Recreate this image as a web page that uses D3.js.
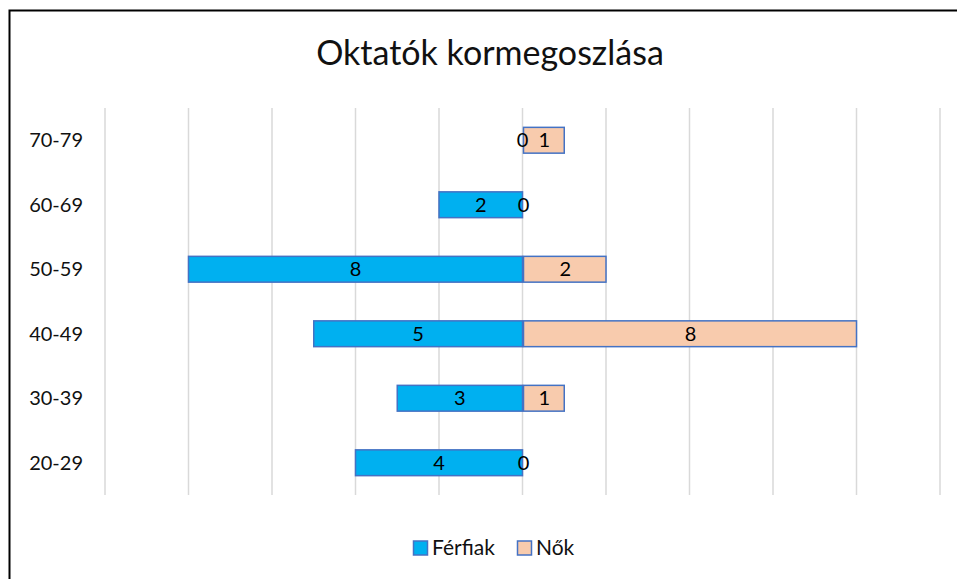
<!DOCTYPE html>
<html>
<head>
<meta charset="utf-8">
<script src="https://cdn.jsdelivr.net/npm/d3@7"></script>
<style>
  body { margin: 0; background: #fff; }
  svg { font-family: Lato, "Open Sans", sans-serif; }
</style>
</head>
<body>
<div id="chart"></div>
<script>
var ageGroups = ["70-79", "60-69", "50-59", "40-49", "30-39", "20-29"];
var men = [0, 2, 8, 5, 3, 4];
var women = [1, 0, 2, 8, 1, 0];
var seriesNames = ["Férfiak", "Nők"];
var gridTicks = [-10, -8, -6, -4, -2, 0, 2, 4, 6, 8, 10];

var w = 957,
  h = 579;

var svg = d3
  .select("#chart")
  .append("svg")
  .attr("width", w)
  .attr("height", h);

// chart frame (right and bottom edges fall outside the picture)
svg
  .append("rect")
  .attr("x", 9.5)
  .attr("y", 10.5)
  .attr("width", 1000)
  .attr("height", 1000)
  .attr("fill", "white")
  .attr("stroke", "black")
  .attr("stroke-width", 2);

svg
  .append("text")
  .attr("x", 490)
  .attr("y", 65)
  .attr("text-anchor", "middle")
  .attr("font-size", 34)
  .attr("fill", "#111")
  .text("Oktatók kormegoszlása");

var x = d3.scaleLinear().domain([-10, 10]).range([105, 940]);
var y = d3
  .scaleBand()
  .domain(ageGroups)
  .range([108, 495])
  .paddingInner(0.6)
  .paddingOuter(0.3);

svg
  .append("g")
  .selectAll("line")
  .data(gridTicks)
  .enter()
  .append("line")
  .attr("x1", (d) => x(d))
  .attr("x2", (d) => x(d))
  .attr("y1", 108)
  .attr("y2", 495)
  .attr("stroke", "#d9d9d9")
  .attr("stroke-width", 1.5);

var rows = ageGroups.map((g, i) => ({ group: g, men: men[i], women: women[i] }));

// men bars (left)
svg
  .append("g")
  .selectAll("rect")
  .data(rows)
  .enter()
  .append("rect")
  .attr("x", (d) => x(-d.men))
  .attr("y", (d) => y(d.group))
  .attr("width", (d) => x(0) - x(-d.men))
  .attr("height", y.bandwidth())
  .attr("fill", "#00b0f0")
  .attr("stroke", (d) => (d.men ? "#4472c4" : "none"))
  .attr("stroke-width", 1.5);

// women bars (right)
svg
  .append("g")
  .selectAll("rect")
  .data(rows)
  .enter()
  .append("rect")
  .attr("x", x(0) + 1)
  .attr("y", (d) => y(d.group))
  .attr("width", (d) => Math.max(0, x(d.women) - x(0) - 1))
  .attr("height", y.bandwidth())
  .attr("fill", "#f8cbad")
  .attr("stroke", (d) => (d.women ? "#4472c4" : "none"))
  .attr("stroke-width", 1.5);

// value labels, centred in each bar
var labels = svg.append("g").attr("font-size", 20).attr("fill", "#000").attr("text-anchor", "middle");

labels
  .selectAll(".lm")
  .data(rows)
  .enter()
  .append("text")
  .attr("class", "lm")
  .attr("x", (d) => (x(-d.men) + x(0)) / 2)
  .attr("y", (d) => y(d.group) + y.bandwidth() / 2)
  .attr("dy", "0.35em")
  .text((d) => d.men);

labels
  .selectAll(".lw")
  .data(rows)
  .enter()
  .append("text")
  .attr("class", "lw")
  .attr("x", (d) => (x(d.women) + x(0)) / 2 + 1)
  .attr("y", (d) => y(d.group) + y.bandwidth() / 2)
  .attr("dy", "0.35em")
  .text((d) => d.women);

// category labels
svg
  .append("g")
  .selectAll("text")
  .data(ageGroups)
  .enter()
  .append("text")
  .attr("x", 83)
  .attr("y", (d) => y(d) + y.bandwidth() / 2)
  .attr("dy", "0.35em")
  .attr("text-anchor", "end")
  .attr("font-size", 20)
  .attr("fill", "#111")
  .text((d) => d);

// legend
var legendColors = ["#00b0f0", "#f8cbad"];
var legendX = [413, 517];
var legend = svg
  .append("g")
  .selectAll("g")
  .data(seriesNames)
  .enter()
  .append("g")
  .attr("transform", (d, i) => `translate(${legendX[i]}, 548)`);

legend
  .append("rect")
  .attr("x", 0.5)
  .attr("y", -7)
  .attr("width", 14)
  .attr("height", 14)
  .attr("fill", (d, i) => legendColors[i])
  .attr("stroke", "#4472c4")
  .attr("stroke-width", 1.5);

legend
  .append("text")
  .attr("x", 19)
  .attr("dy", "0.35em")
  .attr("font-size", 21)
  .attr("fill", "#111")
  .text((d) => d);
</script>
</body>
</html>
